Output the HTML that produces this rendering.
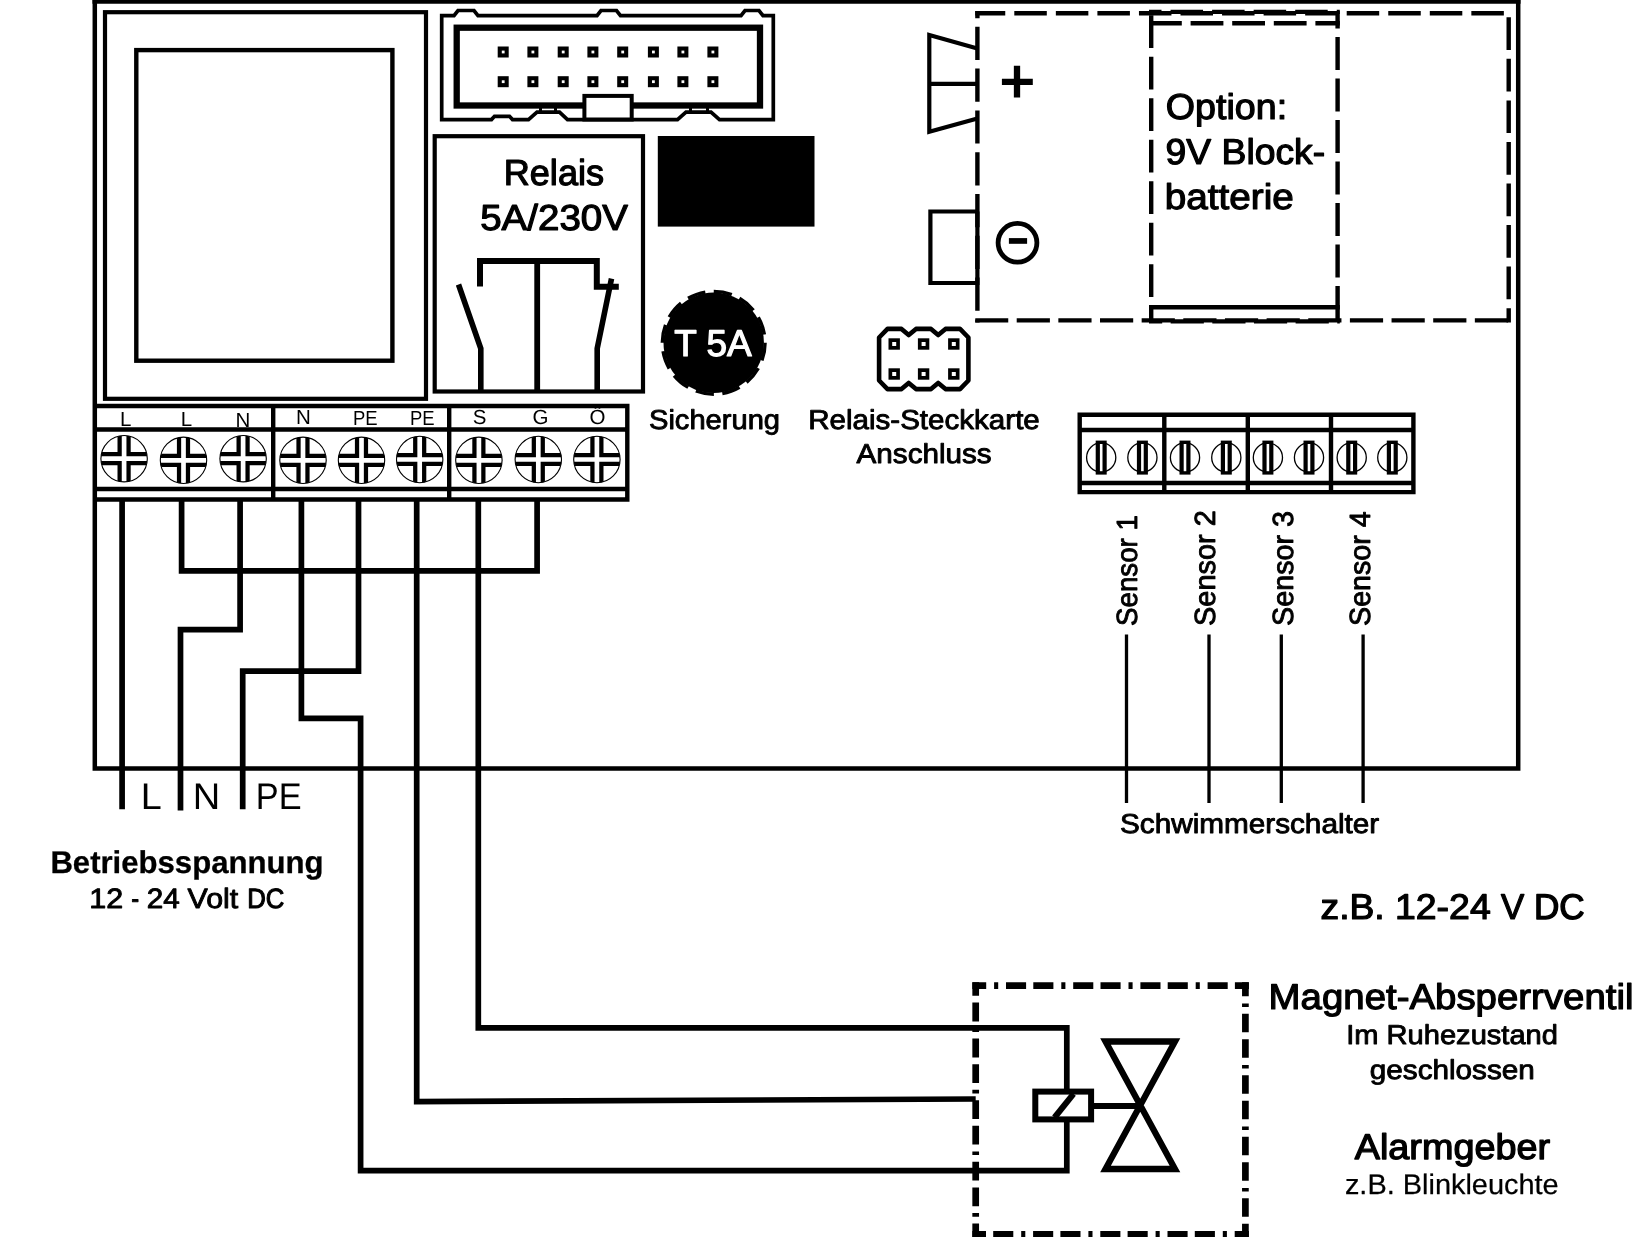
<!DOCTYPE html>
<html><head><meta charset="utf-8"><title>Anschlussplan</title>
<style>
html,body{margin:0;padding:0;background:#fff;}
body{width:1641px;height:1237px;overflow:hidden;}
svg{display:block;will-change:transform;text-rendering:geometricPrecision;font-family:"Liberation Sans",sans-serif;}
</style></head><body>
<svg width="1641" height="1237" viewBox="0 0 1641 1237">
<rect width="1641" height="1237" fill="#fff"/>
<g fill="none" stroke="#000" stroke-linecap="butt" stroke-linejoin="miter">
<path d="M94.8 0 V768.5 H1518.2 V0" stroke-width="4.5"/>
<path d="M92.5 1.8 H1520.5" stroke-width="3.8"/>
<rect x="105" y="12.2" width="321" height="386.6" stroke-width="4.2"/>
<rect x="136.3" y="50.1" width="256.1" height="310.6" stroke-width="4.4"/>
<path d="M441.7 119.6 V15.6 H454 L458 10.5 H474 L478 15.6 H597 L601 10.5 H616.5 L620.5 15.6 H741 L745 10.5 H759 L763 15.6 H773.3 V119.6 H719.5 L711 112.2 H686 L677.5 119.6 H567.5 L559.5 112.2 H537 L528.5 119.6 H512.5 L509.5 116.3 H494.5 L491.5 119.6 Z" stroke-width="3.7"/>
<rect x="456.7" y="27.7" width="303.3" height="77.8" stroke-width="6.3"/>
<path d="M540.5 107 V113 M555.5 107 V113 M690.5 107 V113 M707.5 107 V113" stroke-width="3"/>
<rect x="584.4" y="95.9" width="47.3" height="23.6" stroke-width="4" fill="#fff"/>
</g>
<g fill="#000">
<rect x="497.7" y="46.5" width="11" height="11"/><rect x="501.8" y="50.6" width="2.8" height="2.8" fill="#fff"/>
<rect x="527.4" y="46.5" width="11" height="11"/><rect x="531.5" y="50.6" width="2.8" height="2.8" fill="#fff"/>
<rect x="557.7" y="46.5" width="11" height="11"/><rect x="561.8" y="50.6" width="2.8" height="2.8" fill="#fff"/>
<rect x="587.4" y="46.5" width="11" height="11"/><rect x="591.5" y="50.6" width="2.8" height="2.8" fill="#fff"/>
<rect x="617.2" y="46.5" width="11" height="11"/><rect x="621.3" y="50.6" width="2.8" height="2.8" fill="#fff"/>
<rect x="647.9" y="46.5" width="11" height="11"/><rect x="652.0" y="50.6" width="2.8" height="2.8" fill="#fff"/>
<rect x="677.4" y="46.5" width="11" height="11"/><rect x="681.5" y="50.6" width="2.8" height="2.8" fill="#fff"/>
<rect x="707.4" y="46.5" width="11" height="11"/><rect x="711.5" y="50.6" width="2.8" height="2.8" fill="#fff"/>
<rect x="497.7" y="76.2" width="11" height="11"/><rect x="501.8" y="80.3" width="2.8" height="2.8" fill="#fff"/>
<rect x="527.4" y="76.2" width="11" height="11"/><rect x="531.5" y="80.3" width="2.8" height="2.8" fill="#fff"/>
<rect x="557.7" y="76.2" width="11" height="11"/><rect x="561.8" y="80.3" width="2.8" height="2.8" fill="#fff"/>
<rect x="587.4" y="76.2" width="11" height="11"/><rect x="591.5" y="80.3" width="2.8" height="2.8" fill="#fff"/>
<rect x="617.2" y="76.2" width="11" height="11"/><rect x="621.3" y="80.3" width="2.8" height="2.8" fill="#fff"/>
<rect x="647.9" y="76.2" width="11" height="11"/><rect x="652.0" y="80.3" width="2.8" height="2.8" fill="#fff"/>
<rect x="677.4" y="76.2" width="11" height="11"/><rect x="681.5" y="80.3" width="2.8" height="2.8" fill="#fff"/>
<rect x="707.4" y="76.2" width="11" height="11"/><rect x="711.5" y="80.3" width="2.8" height="2.8" fill="#fff"/>
</g>
<g fill="none" stroke="#000">
<rect x="434.7" y="136.2" width="208.3" height="255.3" stroke-width="4.2"/>
<path d="M480 286.6 V260.9 H596.8 V286.7 H618.8" stroke-width="6"/>
<path d="M537.2 260.9 V391" stroke-width="5.8"/>
<path d="M458.5 284.5 L480.8 348.5 V391" stroke-width="5.6"/>
<path d="M611.5 278.6 L597.2 348.5 V391" stroke-width="5.6"/>
</g>
<rect x="657.8" y="136" width="156.7" height="90.6" fill="#000"/>
<circle cx="713.7" cy="342.8" r="50.2" fill="#000"/>
<circle cx="713.7" cy="342.8" r="51.4" fill="none" stroke="#000" stroke-width="3.4" stroke-dasharray="18.4 8.51" stroke-dashoffset="0.3"/>
<path d="M879.1 337.5 L887.5 328.9 H901.5 L908.7 335 L916 328.9 H931 L938.2 335 L945.5 328.9 H960 L968.4 337.5 V380.5 L960 389.1 H945.5 L938.2 383 L931 389.1 H916 L908.7 383 L901.5 389.1 H887.5 L879.1 380.5 Z" fill="none" stroke="#000" stroke-width="4.6" stroke-linejoin="round"/>
<rect x="888.5" y="338.3" width="11.4" height="11.4" fill="#000"/><rect x="892.2" y="342.0" width="4" height="4" fill="#fff"/>
<rect x="917.9" y="338.3" width="11.4" height="11.4" fill="#000"/><rect x="921.6" y="342.0" width="4" height="4" fill="#fff"/>
<rect x="948.1" y="338.3" width="11.4" height="11.4" fill="#000"/><rect x="951.8" y="342.0" width="4" height="4" fill="#fff"/>
<rect x="888.5" y="368.3" width="11.4" height="11.4" fill="#000"/><rect x="892.2" y="372.0" width="4" height="4" fill="#fff"/>
<rect x="917.9" y="368.3" width="11.4" height="11.4" fill="#000"/><rect x="921.6" y="372.0" width="4" height="4" fill="#fff"/>
<rect x="948.1" y="368.3" width="11.4" height="11.4" fill="#000"/><rect x="951.8" y="372.0" width="4" height="4" fill="#fff"/>
<g fill="none" stroke="#000" stroke-width="4.4">
<path d="M975.3 13.2 H1510.9" stroke-dasharray="32.5 9.05" stroke-dashoffset="2.55"/>
<path d="M1508.7 10.9 V322.6" stroke-dasharray="32.7 8.85" stroke-dashoffset="35.15"/>
<path d="M975.3 320.4 H1510.9" stroke-dasharray="33.2 8.45" stroke-dashoffset="0.25"/>
<path d="M977.4 10.9 V322.6" stroke-dasharray="33.2 8.6" stroke-dashoffset="25.9"/>
<path d="M1151.2 10.9 V322.6" stroke-dasharray="32.8 8.7" stroke-dashoffset="37.2"/>
<path d="M1337.6 10.9 V322.6" stroke-dasharray="33 8.5" stroke-dashoffset="15.3"/>
<path d="M1149 11.9 H1339.8" stroke-dasharray="32.5 9.05" stroke-dashoffset="20"/>
<path d="M1149 321.4 H1339.8" stroke-dasharray="33.2 8.45" stroke-dashoffset="20"/>
<path d="M1149 23.2 H1339.8" stroke-dasharray="32.8 8.8"/>
<path d="M1149 307.2 H1339.8"/>
<path d="M977.4 48.4 L929.3 35.1 V131.8 L977.4 118.4 M929.3 83.9 H977.4" stroke-width="4.2"/>
<path d="M977.4 211.5 H930.4 V283 H977.4 V211.5" stroke-width="4.2"/>
<circle cx="1017.5" cy="242.8" r="19.4" stroke-width="4.8"/>
</g>
<path d="M1001.9 81.8 H1032.8 M1017 65.8 V97.6" stroke="#000" stroke-width="6.3" fill="none"/>
<rect x="1008.9" y="238.1" width="18.2" height="5.7" fill="#000"/>
<g fill="none" stroke="#000" stroke-width="4.4">
<path d="M94.8 406 H627.3 V499.5 H94.8 M94.8 429.5 H627.3 M94.8 489 H627.3 M273.2 406 V499.5 M449.2 406 V499.5"/>
</g>
<defs><clipPath id="sc"><circle cx="0" cy="0" r="23.2"/></clipPath></defs>
<g transform="translate(124.1 458.7)"><g clip-path="url(#sc)"><path d="M0 -24 V24 M-24 0 H24" stroke="#000" stroke-width="13.2" fill="none"/><path d="M0 -24 V24 M-24 0 H24" stroke="#fff" stroke-width="4.7" fill="none"/></g><circle r="23.2" fill="none" stroke="#000" stroke-width="1.1"/></g>
<g transform="translate(183.5 460.3)"><g clip-path="url(#sc)"><path d="M0 -24 V24 M-24 0 H24" stroke="#000" stroke-width="13.2" fill="none"/><path d="M0 -24 V24 M-24 0 H24" stroke="#fff" stroke-width="4.7" fill="none"/></g><circle r="23.2" fill="none" stroke="#000" stroke-width="1.1"/></g>
<g transform="translate(243.1 458.7)"><g clip-path="url(#sc)"><path d="M0 -24 V24 M-24 0 H24" stroke="#000" stroke-width="13.2" fill="none"/><path d="M0 -24 V24 M-24 0 H24" stroke="#fff" stroke-width="4.7" fill="none"/></g><circle r="23.2" fill="none" stroke="#000" stroke-width="1.1"/></g>
<g transform="translate(303 460.3)"><g clip-path="url(#sc)"><path d="M0 -24 V24 M-24 0 H24" stroke="#000" stroke-width="13.2" fill="none"/><path d="M0 -24 V24 M-24 0 H24" stroke="#fff" stroke-width="4.7" fill="none"/></g><circle r="23.2" fill="none" stroke="#000" stroke-width="1.1"/></g>
<g transform="translate(361.5 460.3)"><g clip-path="url(#sc)"><path d="M0 -24 V24 M-24 0 H24" stroke="#000" stroke-width="13.2" fill="none"/><path d="M0 -24 V24 M-24 0 H24" stroke="#fff" stroke-width="4.7" fill="none"/></g><circle r="23.2" fill="none" stroke="#000" stroke-width="1.1"/></g>
<g transform="translate(419.7 459.5)"><g clip-path="url(#sc)"><path d="M0 -24 V24 M-24 0 H24" stroke="#000" stroke-width="13.2" fill="none"/><path d="M0 -24 V24 M-24 0 H24" stroke="#fff" stroke-width="4.7" fill="none"/></g><circle r="23.2" fill="none" stroke="#000" stroke-width="1.1"/></g>
<g transform="translate(478.9 460.3)"><g clip-path="url(#sc)"><path d="M0 -24 V24 M-24 0 H24" stroke="#000" stroke-width="13.2" fill="none"/><path d="M0 -24 V24 M-24 0 H24" stroke="#fff" stroke-width="4.7" fill="none"/></g><circle r="23.2" fill="none" stroke="#000" stroke-width="1.1"/></g>
<g transform="translate(538.3 459.5)"><g clip-path="url(#sc)"><path d="M0 -24 V24 M-24 0 H24" stroke="#000" stroke-width="13.2" fill="none"/><path d="M0 -24 V24 M-24 0 H24" stroke="#fff" stroke-width="4.7" fill="none"/></g><circle r="23.2" fill="none" stroke="#000" stroke-width="1.1"/></g>
<g transform="translate(596.9 459.5)"><g clip-path="url(#sc)"><path d="M0 -24 V24 M-24 0 H24" stroke="#000" stroke-width="13.2" fill="none"/><path d="M0 -24 V24 M-24 0 H24" stroke="#fff" stroke-width="4.7" fill="none"/></g><circle r="23.2" fill="none" stroke="#000" stroke-width="1.1"/></g>
<g fill="none" stroke="#000" stroke-width="5.7">
<path d="M122.1 500 V809.3"/>
<path d="M181.6 500 V570.9 H537.1 V500"/>
<path d="M240.1 500 V629.6 H180.5 V810.6"/>
<path d="M358.5 500 V671.1 H242.7 V809.3"/>
<path d="M301.4 500 V718.4 H360.6 V1170.7 H1066.8 V1122"/>
<path d="M416.7 500 V1101.6 L975.7 1099"/>
<path d="M478.3 500 V1027.8 H1066.8 V1089"/>
</g>
<g fill="none" stroke="#000" stroke-width="4.4">
<path d="M1079.7 414.7 H1413.4 V492.1 H1079.7 Z M1079.7 430 H1413.4 M1079.7 483 H1413.4 M1164.3 414.7 V492.1 M1247.8 414.7 V492.1 M1331 414.7 V492.1"/>
</g>
<circle cx="1101.2" cy="457.5" r="14.6" fill="#fff" stroke="#000" stroke-width="1.3"/><rect x="1095.7" y="440.6" width="11" height="34" fill="#000"/><rect x="1099.9" y="444" width="2.6" height="27.2" fill="#fff"/>
<circle cx="1142.4" cy="457.5" r="14.6" fill="#fff" stroke="#000" stroke-width="1.3"/><rect x="1136.9" y="440.6" width="11" height="34" fill="#000"/><rect x="1141.1" y="444" width="2.6" height="27.2" fill="#fff"/>
<circle cx="1185" cy="457.5" r="14.6" fill="#fff" stroke="#000" stroke-width="1.3"/><rect x="1179.5" y="440.6" width="11" height="34" fill="#000"/><rect x="1183.7" y="444" width="2.6" height="27.2" fill="#fff"/>
<circle cx="1226.3" cy="457.5" r="14.6" fill="#fff" stroke="#000" stroke-width="1.3"/><rect x="1220.8" y="440.6" width="11" height="34" fill="#000"/><rect x="1225.0" y="444" width="2.6" height="27.2" fill="#fff"/>
<circle cx="1267.9" cy="457.5" r="14.6" fill="#fff" stroke="#000" stroke-width="1.3"/><rect x="1262.4" y="440.6" width="11" height="34" fill="#000"/><rect x="1266.6" y="444" width="2.6" height="27.2" fill="#fff"/>
<circle cx="1309" cy="457.5" r="14.6" fill="#fff" stroke="#000" stroke-width="1.3"/><rect x="1303.5" y="440.6" width="11" height="34" fill="#000"/><rect x="1307.7" y="444" width="2.6" height="27.2" fill="#fff"/>
<circle cx="1351.7" cy="457.5" r="14.6" fill="#fff" stroke="#000" stroke-width="1.3"/><rect x="1346.2" y="440.6" width="11" height="34" fill="#000"/><rect x="1350.4" y="444" width="2.6" height="27.2" fill="#fff"/>
<circle cx="1392.3" cy="457.5" r="14.6" fill="#fff" stroke="#000" stroke-width="1.3"/><rect x="1386.8" y="440.6" width="11" height="34" fill="#000"/><rect x="1391.0" y="444" width="2.6" height="27.2" fill="#fff"/>
<path d="M1126.5 634.4 V803 M1209 634.4 V803 M1281.3 634.4 V803 M1363.1 634.4 V803" stroke="#000" stroke-width="3.3" fill="none"/>
<g fill="none" stroke="#000" stroke-width="6.7">
<path d="M972.35 985.7 H1248.9" stroke-dasharray="20.1 7.2 20.1 7.9 4.1 7.8" stroke-dashoffset="33.55"/>
<path d="M972.35 1234.45 H1248.9" stroke-dasharray="20.1 7.2 20.1 7.9 4.1 7.8" stroke-dashoffset="6.45"/>
<path d="M975.7 982.35 V1238" stroke-dasharray="18.8 6.8 18.8 6.8 3.7 6.7" stroke-dashoffset="5.35"/>
<path d="M1245.4 982.35 V1238" stroke-dasharray="18.6 6.9 18.6 7.1 3.6 6.7" stroke-dashoffset="30.15"/>
</g>
<g fill="none" stroke="#000">
<rect x="1035.3" y="1091.6" width="55.8" height="27.8" stroke-width="6"/>
<path d="M1054.5 1117.5 L1073.5 1093.8" stroke-width="6"/>
<path d="M1094 1105.9 H1140.3" stroke-width="6"/>
<path d="M1105.5 1041.5 H1175 L1105.5 1169 H1175 Z" stroke-width="6.3" stroke-linejoin="miter" stroke-miterlimit="10"/>
</g>
<text x="503.7" y="185.0" font-size="36.2" font-weight="normal" text-anchor="start" fill="#000" stroke="#000" stroke-width="1.2" stroke-linejoin="round" textLength="100.4" lengthAdjust="spacingAndGlyphs">Relais</text>
<text x="480.2" y="229.9" font-size="36.2" font-weight="normal" text-anchor="start" fill="#000" stroke="#000" stroke-width="1.2" stroke-linejoin="round" textLength="147.8" lengthAdjust="spacingAndGlyphs">5A/230V</text>
<text x="674.3" y="356.1" font-size="37.2" font-weight="normal" text-anchor="start" fill="#fff" stroke="#fff" stroke-width="1.2" stroke-linejoin="round" textLength="77.4" lengthAdjust="spacingAndGlyphs">T 5A</text>
<text x="649.0" y="428.55" font-size="27.4" font-weight="normal" text-anchor="start" fill="#000" stroke="#000" stroke-width="0.9" stroke-linejoin="round" textLength="131.0" lengthAdjust="spacingAndGlyphs">Sicherung</text>
<text x="808.2" y="428.55" font-size="27.4" font-weight="normal" text-anchor="start" fill="#000" stroke="#000" stroke-width="0.9" stroke-linejoin="round" textLength="231.6" lengthAdjust="spacingAndGlyphs">Relais-Steckkarte</text>
<text x="856.6" y="463.15" font-size="27.4" font-weight="normal" text-anchor="start" fill="#000" stroke="#000" stroke-width="0.9" stroke-linejoin="round" textLength="135.1" lengthAdjust="spacingAndGlyphs">Anschluss</text>
<text x="1165.8" y="119.0" font-size="35.9" font-weight="normal" text-anchor="start" fill="#000" stroke="#000" stroke-width="1.2" stroke-linejoin="round" textLength="121.3" lengthAdjust="spacingAndGlyphs">Option:</text>
<text x="1165.6" y="163.9" font-size="35.9" font-weight="normal" text-anchor="start" fill="#000" stroke="#000" stroke-width="1.2" stroke-linejoin="round" textLength="159.5" lengthAdjust="spacingAndGlyphs">9V Block-</text>
<text x="1164.8" y="208.8" font-size="35.9" font-weight="normal" text-anchor="start" fill="#000" stroke="#000" stroke-width="1.2" stroke-linejoin="round" textLength="129.0" lengthAdjust="spacingAndGlyphs">batterie</text>
<text x="50.4" y="873.15" font-size="31.4" font-weight="bold" text-anchor="start" fill="#000" stroke="#000" stroke-width="0.3" stroke-linejoin="round" textLength="273.1" lengthAdjust="spacingAndGlyphs">Betriebsspannung</text>
<text x="89.3" y="908.45" font-size="27.9" font-weight="normal" text-anchor="start" fill="#000" stroke="#000" stroke-width="0.9" stroke-linejoin="round" textLength="33.9" lengthAdjust="spacingAndGlyphs">12</text>
<text x="131.2" y="908.45" font-size="27.9" font-weight="normal" text-anchor="start" fill="#000" stroke="#000" stroke-width="0.9" stroke-linejoin="round" textLength="7.9" lengthAdjust="spacingAndGlyphs">-</text>
<text x="146.7" y="908.45" font-size="27.9" font-weight="normal" text-anchor="start" fill="#000" stroke="#000" stroke-width="0.9" stroke-linejoin="round" textLength="33.0" lengthAdjust="spacingAndGlyphs">24</text>
<text x="187.6" y="908.45" font-size="27.9" font-weight="normal" text-anchor="start" fill="#000" stroke="#000" stroke-width="0.9" stroke-linejoin="round" textLength="50.6" lengthAdjust="spacingAndGlyphs">Volt</text>
<text x="247.2" y="908.35" font-size="27.9" font-weight="normal" text-anchor="start" fill="#000" stroke="#000" stroke-width="1.1" stroke-linejoin="round" textLength="37.1" lengthAdjust="spacingAndGlyphs">DC</text>
<text x="1120.0" y="833.05" font-size="27.4" font-weight="normal" text-anchor="start" fill="#000" stroke="#000" stroke-width="0.9" stroke-linejoin="round" textLength="259.2" lengthAdjust="spacingAndGlyphs">Schwimmerschalter</text>
<text x="1320.5" y="918.9" font-size="35.7" font-weight="normal" text-anchor="start" fill="#000" stroke="#000" stroke-width="1.2" stroke-linejoin="round" textLength="64.2" lengthAdjust="spacingAndGlyphs">z.B.</text>
<text x="1395.0" y="918.9" font-size="35.7" font-weight="normal" text-anchor="start" fill="#000" stroke="#000" stroke-width="1.2" stroke-linejoin="round" textLength="95.7" lengthAdjust="spacingAndGlyphs">12-24</text>
<text x="1500.9" y="918.9" font-size="35.7" font-weight="normal" text-anchor="start" fill="#000" stroke="#000" stroke-width="1.2" stroke-linejoin="round" textLength="23.2" lengthAdjust="spacingAndGlyphs">V</text>
<text x="1533.9" y="918.8" font-size="35.7" font-weight="normal" text-anchor="start" fill="#000" stroke="#000" stroke-width="1.4" stroke-linejoin="round" textLength="50.7" lengthAdjust="spacingAndGlyphs">DC</text>
<text x="1268.6" y="1009.4" font-size="35.9" font-weight="normal" text-anchor="start" fill="#000" stroke="#000" stroke-width="1.2" stroke-linejoin="round" textLength="364.9" lengthAdjust="spacingAndGlyphs">Magnet-Absperrventil</text>
<text x="1346.2" y="1044.15" font-size="27.2" font-weight="normal" text-anchor="start" fill="#000" stroke="#000" stroke-width="0.9" stroke-linejoin="round" textLength="211.8" lengthAdjust="spacingAndGlyphs">Im Ruhezustand</text>
<text x="1369.8" y="1078.55" font-size="27.2" font-weight="normal" text-anchor="start" fill="#000" stroke="#000" stroke-width="0.9" stroke-linejoin="round" textLength="165.0" lengthAdjust="spacingAndGlyphs">geschlossen</text>
<text x="1354.7" y="1159.05" font-size="35.7" font-weight="normal" text-anchor="start" fill="#000" stroke="#000" stroke-width="1.3" stroke-linejoin="round" textLength="195.5" lengthAdjust="spacingAndGlyphs">Alarmgeber</text>
<text x="1344.9" y="1194.38" font-size="28.3" font-weight="normal" text-anchor="start" fill="#000" stroke="#000" stroke-width="0.25" stroke-linejoin="round" textLength="213.8" lengthAdjust="spacingAndGlyphs">z.B. Blinkleuchte</text>
<text x="140.7" y="809.3" font-size="37.2" font-weight="normal" text-anchor="start" fill="#000" textLength="21.0" lengthAdjust="spacingAndGlyphs">L</text>
<text x="192.8" y="809.3" font-size="37.2" font-weight="normal" text-anchor="start" fill="#000" textLength="27.5" lengthAdjust="spacingAndGlyphs">N</text>
<text x="255.8" y="809.3" font-size="37.2" font-weight="normal" text-anchor="start" fill="#000" textLength="45.8" lengthAdjust="spacingAndGlyphs">PE</text>
<text transform="translate(1136.75 625.90) rotate(-90)" font-size="29.2" textLength="110.80" lengthAdjust="spacingAndGlyphs" stroke="#000" stroke-width="0.9" stroke-linejoin="round">Sensor 1</text>
<text transform="translate(1214.55 625.90) rotate(-90)" font-size="29.2" textLength="115.60" lengthAdjust="spacingAndGlyphs" stroke="#000" stroke-width="0.9" stroke-linejoin="round">Sensor 2</text>
<text transform="translate(1292.75 625.90) rotate(-90)" font-size="29.2" textLength="115.00" lengthAdjust="spacingAndGlyphs" stroke="#000" stroke-width="0.9" stroke-linejoin="round">Sensor 3</text>
<text transform="translate(1369.95 625.90) rotate(-90)" font-size="29.2" textLength="114.60" lengthAdjust="spacingAndGlyphs" stroke="#000" stroke-width="0.9" stroke-linejoin="round">Sensor 4</text>
<text x="125.8" y="426" font-size="20.5" font-weight="normal" text-anchor="middle" fill="#000">L</text>
<text x="186.4" y="426" font-size="20.5" font-weight="normal" text-anchor="middle" fill="#000">L</text>
<text x="243" y="427" font-size="20.5" font-weight="normal" text-anchor="middle" fill="#000">N</text>
<text x="303.3" y="423.7" font-size="20.5" font-weight="normal" text-anchor="middle" fill="#000">N</text>
<text x="365.3" y="425.4" font-size="20.5" font-weight="normal" text-anchor="middle" fill="#000" textLength="24.6" lengthAdjust="spacingAndGlyphs">PE</text>
<text x="422.3" y="425.4" font-size="20.5" font-weight="normal" text-anchor="middle" fill="#000" textLength="24.6" lengthAdjust="spacingAndGlyphs">PE</text>
<text x="479.5" y="424" font-size="20.5" font-weight="normal" text-anchor="middle" fill="#000">S</text>
<text x="540.4" y="424" font-size="20.5" font-weight="normal" text-anchor="middle" fill="#000">G</text>
<text x="597.5" y="424" font-size="20.5" font-weight="normal" text-anchor="middle" fill="#000">Ö</text>
</svg></body></html>
